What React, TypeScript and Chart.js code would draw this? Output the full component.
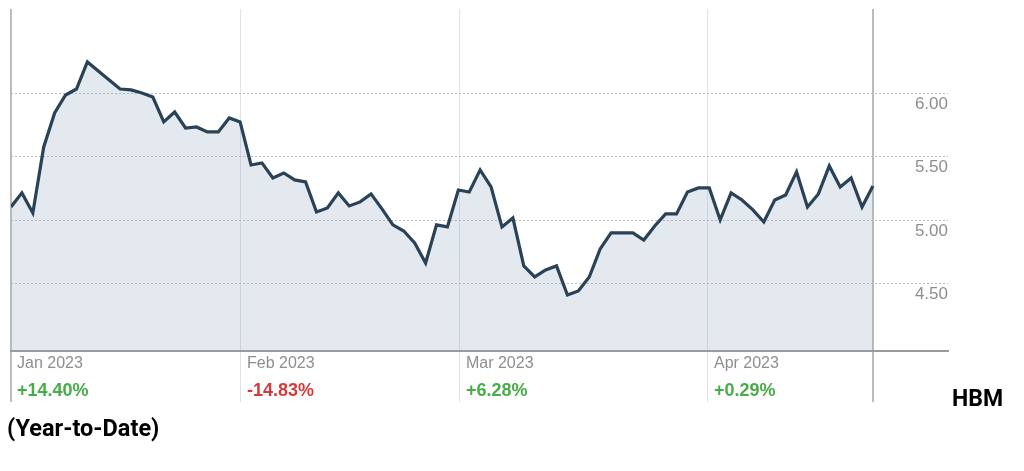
import React, { useEffect, useRef } from 'react';
import { Chart, registerables } from 'chart.js';

Chart.register(...registerables);

// Daily closing prices (USD)
const prices = [
  5.106, 5.217, 5.059, 5.579, 5.846, 5.988, 6.035, 6.248, 6.177, 6.106,
  6.035, 6.028, 6.004, 5.972, 5.776, 5.854, 5.728, 5.736, 5.697, 5.697,
  5.807, 5.776, 5.437, 5.453, 5.335, 5.374, 5.319, 5.303, 5.067, 5.098,
  5.217, 5.114, 5.146, 5.209, 5.091, 4.965, 4.917, 4.823, 4.665, 4.965,
  4.949, 5.240, 5.224, 5.398, 5.264, 4.949, 5.020, 4.642, 4.555, 4.610,
  4.642, 4.413, 4.445, 4.555, 4.776, 4.902, 4.902, 4.902, 4.846, 4.957,
  5.051, 5.051, 5.224, 5.256, 5.256, 5.004, 5.217, 5.161, 5.083, 4.988,
  5.161, 5.201, 5.382, 5.106, 5.209, 5.429, 5.264, 5.335, 5.106, 5.272,
];

const monthLabels = ['Jan 2023', 'Feb 2023', 'Mar 2023', 'Apr 2023'];
const monthChanges = ['+14.40%', '-14.83%', '+6.28%', '+0.29%'];
// month boundaries expressed on the trading-day index axis
const monthStarts = [0, 21.08, 41.15, 63.88];
const yTickValues = [4.5, 5.0, 5.5, 6.0];
const yMin = 3.972;
const yMax = 6.665;
const xMax = 85.88;

const lastIndex = prices.length - 1;
const FONT = '"Liberation Sans", Arial, sans-serif';

export default function App() {
  const ref = useRef<HTMLCanvasElement>(null);

  useEffect(() => {
    if (!ref.current) return;
    const labelsPlugin = {
      id: 'customLabels',
      afterDraw(chart: any) {
        const { ctx, chartArea } = chart;
        const x = chart.scales.x;
        const y = chart.scales.y;
        ctx.save();
        ctx.textBaseline = 'middle';
        ctx.textAlign = 'right';
        ctx.font = `17px ${FONT}`;
        ctx.fillStyle = '#8e8e8e';
        yTickValues.forEach((v) => {
          ctx.fillText(v.toFixed(2), chartArea.right, y.getPixelForValue(v) + 10.5);
        });
        ctx.textAlign = 'left';
        monthLabels.forEach((m, i) => {
          const px = x.getPixelForValue(monthStarts[i]) + 6;
          ctx.font = `16px ${FONT}`;
          ctx.fillStyle = '#8e8e8e';
          ctx.fillText(m, px, chartArea.bottom + 13);
          const ch = monthChanges[i];
          ctx.font = `bold 18px ${FONT}`;
          ctx.fillStyle = ch.startsWith('-') ? '#d23b3b' : '#47ad47';
          ctx.fillText(ch, px, chartArea.bottom + 40);
        });
        ctx.restore();
      },
    };

    const chart = new Chart(ref.current, {
      type: 'line',
      data: {
        datasets: [
          {
            data: prices.map((p, i) => ({ x: i, y: p })),
            borderColor: '#2a4256',
            borderWidth: 3.2,
            backgroundColor: 'rgba(146,168,196,0.25)',
            fill: 'start',
            pointRadius: 0,
            tension: 0,
            borderJoinStyle: 'miter',
          },
        ],
      },
      options: {
        responsive: false,
        animation: false,
        devicePixelRatio: 1,
        layout: { padding: { left: 11, right: 76, top: 9, bottom: 69 } },
        plugins: { legend: { display: false }, tooltip: { enabled: false } },
        scales: {
          x: {
            type: 'linear',
            min: 0,
            max: xMax,
            afterBuildTicks: (scale: any) => {
              scale.ticks = [...monthStarts, lastIndex].map((v) => ({ value: v }));
            },
            ticks: { display: false },
            grid: {
              drawTicks: true,
              tickLength: 51,
              color: (c: any) =>
                c.tick && (c.tick.value === 0 || c.tick.value === lastIndex) ? '#bcbcbc' : '#dde2e8',
              lineWidth: (c: any) =>
                c.tick && (c.tick.value === 0 || c.tick.value === lastIndex) ? 2 : 1,
            },
            border: { display: true, color: '#9a9a9a', width: 2 },
          },
          y: {
            type: 'linear',
            min: yMin,
            max: yMax,
            afterBuildTicks: (scale: any) => {
              scale.ticks = yTickValues.map((v) => ({ value: v }));
            },
            ticks: { display: false },
            grid: { drawTicks: false, color: '#bdbdbd', lineWidth: 1 },
            border: { display: false, dash: [2, 2] },
          },
        },
      },
      plugins: [labelsPlugin],
    });
    return () => chart.destroy();
  }, []);

  return (
    <div style={{ position: 'absolute', left: 0, top: 0, width: 1024, height: 471, background: '#fff', overflow: 'hidden' }}>
      <canvas ref={ref} width={1024} height={471} style={{ display: 'block', width: 1024, height: 471 }} />
      <div
        style={{
          position: 'absolute',
          left: 952,
          top: 387,
          fontFamily: 'Roboto, sans-serif',
          fontWeight: 700,
          fontSize: 23,
          lineHeight: '23px',
          color: '#000',
          whiteSpace: 'nowrap',
        }}
      >
        HBM
      </div>
      <div
        style={{
          position: 'absolute',
          left: 7,
          top: 417,
          fontFamily: 'Roboto, sans-serif',
          fontWeight: 700,
          fontSize: 23.5,
          lineHeight: '23.5px',
          color: '#000',
          whiteSpace: 'nowrap',
        }}
      >
        (Year-to-Date)
      </div>
    </div>
  );
}
